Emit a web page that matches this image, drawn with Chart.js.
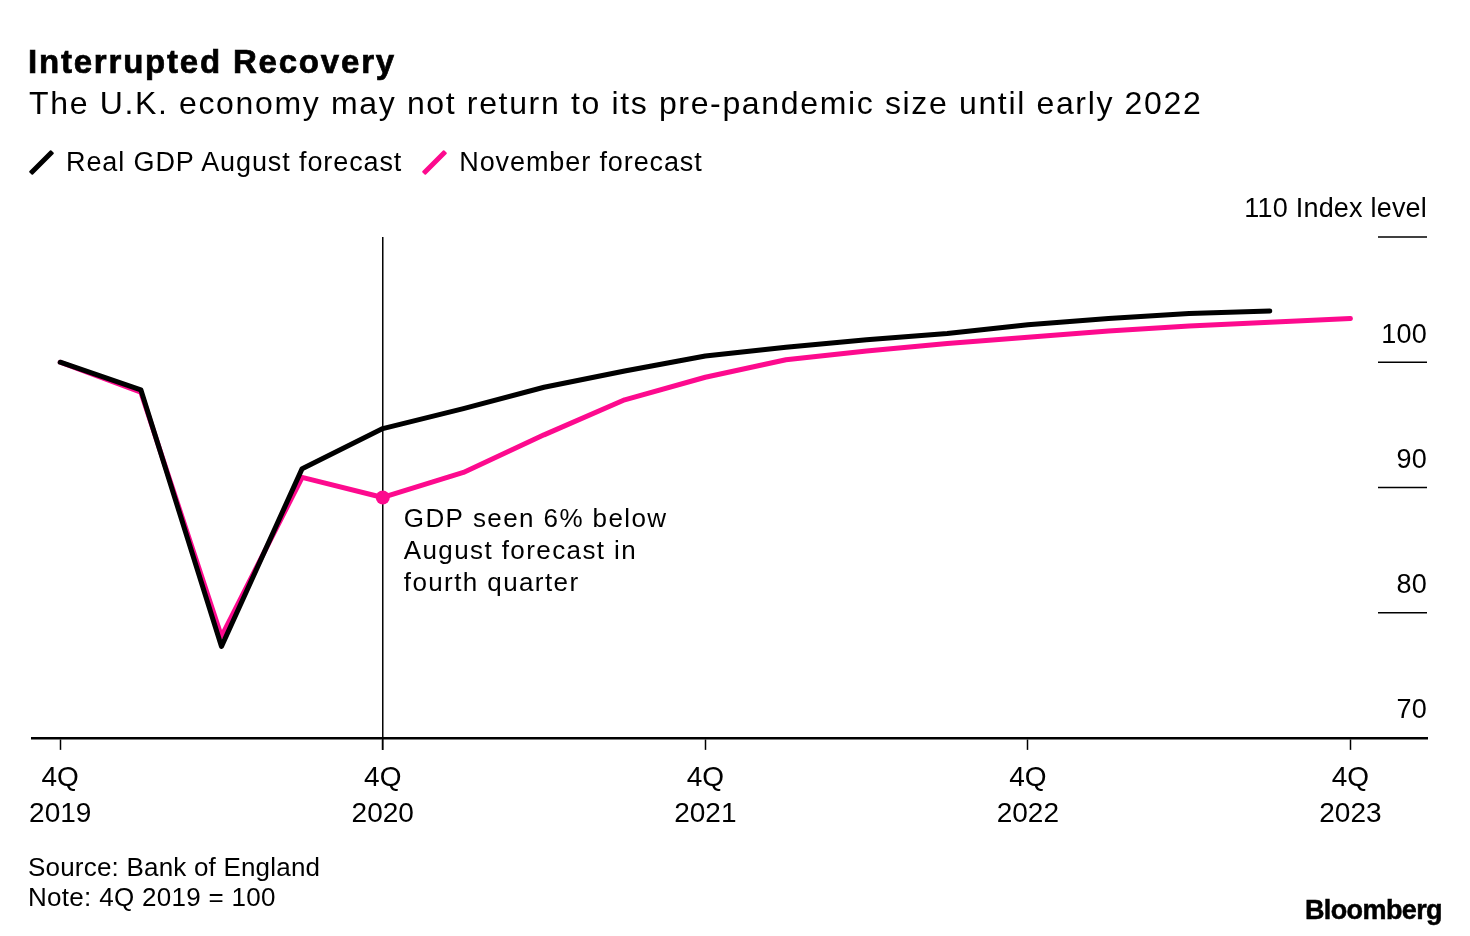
<!DOCTYPE html>
<html>
<head>
<meta charset="utf-8">
<script src="https://cdn.jsdelivr.net/npm/chart.js@4/dist/chart.umd.min.js"></script>
<style>
  html, body { margin: 0; padding: 0; background: #fff; }
  body { width: 1470px; height: 936px; position: relative; overflow: hidden;
         font-family: "Liberation Sans", Arial, sans-serif; color: #000; }
  #wrap { position: absolute; left: 0; top: 0; width: 1470px; height: 936px; }
  .txt { position: absolute; line-height: 1; white-space: nowrap; }
  #title { left: 28px; top: 45px; font-size: 33px; font-weight: bold; letter-spacing: 1.8px; -webkit-text-stroke: 0.7px #000; }
  #subtitle { left: 29px; top: 87px; font-size: 32px; letter-spacing: 1.65px; }
  #legend { left: 30px; top: 149px; font-size: 27px; letter-spacing: 0.9px; }
  .key { display: inline-block; position: relative; width: 24px; height: 24px; margin-right: 12px; vertical-align: -3px; }
  .key i { position: absolute; left: 9px; top: -3px; width: 5px; height: 31px; transform: rotate(45deg); border-radius: 1px; }
  #source { left: 28px; top: 854px; font-size: 26px; letter-spacing: 0.2px; }
  #note { left: 28px; top: 884px; font-size: 26px; letter-spacing: 0.3px; }
  #brand { right: 28px; top: 897px; font-size: 27px; font-weight: bold; letter-spacing: -0.6px; -webkit-text-stroke: 0.5px #000; }
</style>
</head>
<body>
<div id="wrap"><canvas id="chart"></canvas></div>
<div class="txt" id="title">Interrupted Recovery</div>
<div class="txt" id="subtitle">The U.K. economy may not return to its pre-pandemic size until early 2022</div>
<div class="txt" id="legend"><span class="key"><i style="background:#000"></i></span>Real GDP August forecast<span style="display:inline-block;width:21px"></span><span class="key"><i style="background:#fd0a8e"></i></span>November forecast</div>
<div class="txt" id="source">Source: Bank of England</div>
<div class="txt" id="note">Note: 4Q 2019 = 100</div>
<div class="txt" id="brand">Bloomberg</div>
<script>
// Quarters on the x axis
const quarters = ['4Q 2019', '1Q 2020', '2Q 2020', '3Q 2020', '4Q 2020', '1Q 2021', '2Q 2021', '3Q 2021',
    '4Q 2021', '1Q 2022', '2Q 2022', '3Q 2022', '4Q 2022', '1Q 2023', '2Q 2023', '3Q 2023', '4Q 2023'];

// Real GDP index, 4Q 2019 = 100
const augustForecast = [100, 97.8, 77.3, 91.5, 94.7, 96.3, 98.0, 99.3, 100.5, 101.2, 101.8, 102.3, 103.0, 103.5, 103.9, 104.1];
const novemberForecast = [100, 97.6, 78.1, 90.8, 89.2, 91.2, 94.2, 97.0, 98.8, 100.2, 100.9, 101.5, 102.0, 102.5, 102.9, 103.2, 103.5];

const xTicks = [0, 4, 8, 12, 16];
const yTicks = [70, 80, 90, 100, 110];
const markerIndex = 4;
const noteLines = ['GDP seen 6% below', 'August forecast in', 'fourth quarter'];

const pink = '#fd0a8e';
const font = '"Liberation Sans", Arial, sans-serif';

const toPoints = arr => arr.map((v, i) => ({ x: i, y: v }));

// Right-hand index labels with short rules beneath them
const yLabels = {
    id: 'yLabels',
    afterDraw(chart) {
        const { ctx, chartArea, scales: { y } } = chart;
        ctx.save();
        ctx.fillStyle = '#000';
        ctx.strokeStyle = '#000';
        ctx.lineWidth = 1.5;
        ctx.font = '27px ' + font;
        ctx.letterSpacing = '0.2px';
        ctx.textAlign = 'right';
        ctx.textBaseline = 'middle';
        yTicks.forEach(v => {
            const py = y.getPixelForValue(v);
            ctx.beginPath();
            ctx.moveTo(chartArea.right - 49, py);
            ctx.lineTo(chartArea.right, py);
            ctx.stroke();
            const label = v === 110 ? '110 Index level' : String(v);
            ctx.fillText(label, chartArea.right, py - 27);
        });
        ctx.restore();
    }
};

// Vertical marker at 4Q 2020 and its note
const marker = {
    id: 'marker',
    beforeDatasetsDraw(chart) {
        const { ctx, chartArea, scales: { x } } = chart;
        const px = x.getPixelForValue(markerIndex);
        ctx.save();
        ctx.strokeStyle = '#000';
        ctx.lineWidth = 1.5;
        ctx.beginPath();
        ctx.moveTo(px, chartArea.top);
        ctx.lineTo(px, chartArea.bottom + 12);
        ctx.stroke();
        ctx.restore();
    },
    afterDatasetsDraw(chart) {
        const { ctx, scales: { x, y } } = chart;
        const px = x.getPixelForValue(markerIndex) + 21;
        const py = y.getPixelForValue(novemberForecast[markerIndex]);
        ctx.save();
        ctx.fillStyle = '#000';
        ctx.font = '26px ' + font;
        ctx.letterSpacing = '1.4px';
        ctx.textAlign = 'left';
        ctx.textBaseline = 'middle';
        noteLines.forEach((line, i) => ctx.fillText(line, px, py + 22 + i * 32));
        ctx.restore();
    }
};

new Chart(document.getElementById('chart'), {
    type: 'line',
    data: {
        datasets: [{
            label: 'Real GDP August forecast',
            data: toPoints(augustForecast),
            borderColor: '#000',
            borderWidth: 5,
            pointRadius: 0,
            borderCapStyle: 'round',
            borderJoinStyle: 'round'
        }, {
            label: 'November forecast',
            data: toPoints(novemberForecast),
            borderColor: pink,
            backgroundColor: pink,
            borderWidth: 5,
            pointRadius: ctx => ctx.dataIndex === markerIndex ? 7 : 0,
            pointBorderWidth: 0,
            borderCapStyle: 'round',
            borderJoinStyle: 'round'
        }]
    },
    options: {
        responsive: true,
        maintainAspectRatio: false,
        animation: false,
        layout: {
            padding: { left: 32, right: 43, top: 237, bottom: 93 }
        },
        scales: {
            x: {
                type: 'linear',
                min: -0.35,
                max: 16.95,
                afterBuildTicks: scale => {
                    scale.ticks = xTicks.map(v => ({ value: v }));
                },
                grid: {
                    drawOnChartArea: false,
                    drawTicks: true,
                    tickLength: 12,
                    tickWidth: 1.5,
                    color: '#000'
                },
                border: { display: true, color: '#000', width: 2.5 },
                ticks: {
                    color: '#000',
                    padding: 11,
                    maxRotation: 0,
                    autoSkip: false,
                    font: { family: font, size: 28, lineHeight: 1.27 },
                    callback: v => quarters[v] ? quarters[v].split(' ') : ''
                }
            },
            y: {
                display: false,
                min: 70,
                max: 110
            }
        },
        plugins: {
            legend: { display: false },
            tooltip: { enabled: false }
        }
    },
    plugins: [yLabels, marker]
});
</script>
</body>
</html>
